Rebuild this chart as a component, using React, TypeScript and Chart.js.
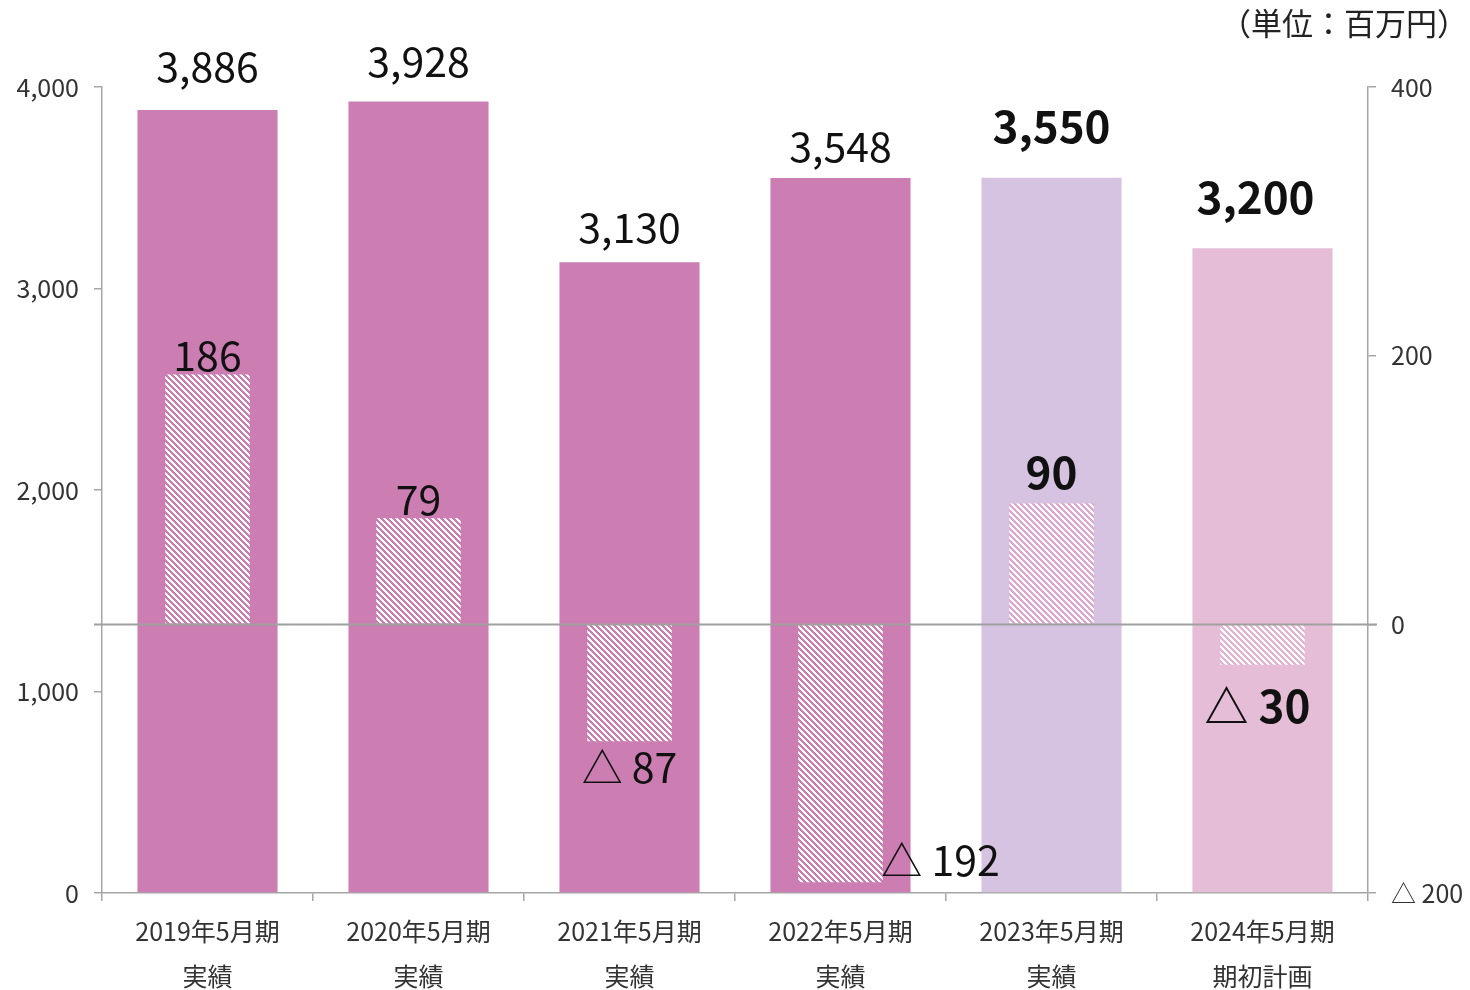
import React, { useEffect, useRef } from 'react';
import { Chart, registerables } from 'chart.js';

Chart.register(...registerables);

// ---- data ----
const categories: string[][] = [
  ['2019年5月期', '実績'],
  ['2020年5月期', '実績'],
  ['2021年5月期', '実績'],
  ['2022年5月期', '実績'],
  ['2023年5月期', '実績'],
  ['2024年5月期', '期初計画'],
];
const salesValues = [3886, 3928, 3130, 3548, 3550, 3200];
const profitValues = [186, 79, -87, -192, 90, -30];
const salesLabels = ['3,886', '3,928', '3,130', '3,548', '3,550', '3,200'];
const profitLabels = ['186', '79', '△ 87', '△ 192', '90', '△ 30'];
const boldFlags = [false, false, false, false, true, true];
const unitLabel = '（単位：百万円）';

// ---- styles ----
const barColors = ['#CC7EB3', '#CC7EB3', '#CC7EB3', '#CC7EB3', '#D5C3E1', '#E6BDD6'];
const stripeColors = ['#CC7EB3', '#CC7EB3', '#CC7EB3', '#CC7EB3', '#DFA5CF', '#E3B3D1'];
const salesLabelGap = [44, 40, 35, 32, 51, 51];
const FONT = '"Noto Sans CJK JP", "Noto Sans", sans-serif';
const AXIS_COLOR = '#A6A6A6';

function makeHatch(color: string): CanvasPattern | string {
  const p = 6;
  const c = document.createElement('canvas');
  c.width = p;
  c.height = p;
  const g = c.getContext('2d');
  if (!g) return color;
  g.fillStyle = '#ffffff';
  g.fillRect(0, 0, p, p);
  g.fillStyle = color;
  for (let y = 0; y < p; y++) {
    for (let x = 0; x < p; x++) {
      const m = (((x - y) % p) + p) % p;
      if (m < 3) g.fillRect(x, y, 1, 1);
    }
  }
  const pat = g.createPattern(c, 'repeat');
  return pat || color;
}

const labelPlugin = {
  id: 'valueLabels',
  afterDatasetsDraw(chart: any) {
    const ctx = chart.ctx;
    const y1 = chart.scales.y1;
    // zero line
    const zy = Math.round(y1.getPixelForValue(0)) + 0.5;
    ctx.save();
    ctx.strokeStyle = '#A0A0A0';
    ctx.lineWidth = 2;
    ctx.beginPath();
    ctx.moveTo(chart.chartArea.left - 8, zy);
    ctx.lineTo(chart.chartArea.right + 9, zy);
    ctx.stroke();

    ctx.fillStyle = '#111111';
    ctx.textAlign = 'center';
    ctx.textBaseline = 'middle';

    const salesMeta = chart.getDatasetMeta(1);
    salesMeta.data.forEach((el: any, i: number) => {
      const bold = boldFlags[i];
      ctx.font = (bold ? 'bold 44px ' : '41px ') + FONT;
      const dx = i === 5 ? -7 : 0;
      ctx.fillText(salesLabels[i], el.x + dx, el.y - salesLabelGap[i]);
    });

    const profitMeta = chart.getDatasetMeta(0);
    profitMeta.data.forEach((el: any, i: number) => {
      const bold = boldFlags[i];
      ctx.font = (bold ? 'bold 44px ' : '41px ') + FONT;
      const v = profitValues[i];
      let x = el.x;
      let y: number;
      if (v >= 0) {
        y = el.y - (bold ? 31 : 19);
      } else if (i === 3) {
        x = el.x + 100;
        y = el.y - 22;
      } else {
        y = el.y + (bold ? 42 : 26);
        if (bold) x -= 5;
      }
      ctx.fillText(profitLabels[i], x, y);
    });

    // unit label
    ctx.font = '31px ' + FONT;
    ctx.textAlign = 'right';
    ctx.fillStyle = '#222222';
    ctx.fillText(unitLabel, 1468, 23);
    ctx.restore();
  },
};

export default function App() {
  const ref = useRef<HTMLCanvasElement | null>(null);

  useEffect(() => {
    if (!ref.current) return;
    const chart = new Chart(ref.current, {
      type: 'bar',
      data: {
        labels: categories,
        datasets: [
          {
            label: '営業利益',
            data: profitValues,
            yAxisID: 'y1',
            backgroundColor: stripeColors.map((c) => makeHatch(c)) as any,
            borderWidth: 0,
            barPercentage: 0.4,
            categoryPercentage: 1,
            grouped: false,
            order: 0,
          },
          {
            label: '売上高',
            data: salesValues,
            yAxisID: 'y',
            backgroundColor: barColors,
            borderWidth: 0,
            barPercentage: 0.664,
            categoryPercentage: 1,
            grouped: false,
            order: 1,
          },
        ],
      },
      options: {
        responsive: false,
        animation: false,
        events: [],
        layout: { padding: { top: 87, left: 0, right: 0, bottom: 0 } },
        plugins: {
          legend: { display: false },
          tooltip: { enabled: false },
        },
        scales: {
          x: {
            type: 'category',
            offset: true,
            afterFit: (s: any) => {
              s.height = 97;
            },
            grid: {
              offset: true,
              drawOnChartArea: false,
              drawTicks: true,
              tickLength: 8,
              color: AXIS_COLOR,
              lineWidth: 1.5,
            },
            border: { color: AXIS_COLOR, width: 1.5 },
            ticks: {
              color: '#333333',
              padding: 8,
              maxRotation: 0,
              autoSkip: false,
              font: { family: FONT, size: 25, lineHeight: 1.8 },
            },
          },
          y: {
            position: 'left',
            min: 0,
            max: 4000,
            afterFit: (s: any) => {
              s.width = 102;
            },
            grid: {
              drawOnChartArea: false,
              drawTicks: true,
              tickLength: 8,
              color: AXIS_COLOR,
              lineWidth: 1.5,
            },
            border: { color: AXIS_COLOR, width: 1.5 },
            ticks: {
              stepSize: 1000,
              padding: 15,
              color: '#333333',
              font: { family: FONT, size: 25 },
              callback: (v: any) => Number(v).toLocaleString('en-US'),
            },
          },
          y1: {
            position: 'right',
            min: -200,
            max: 400,
            afterFit: (s: any) => {
              s.width = 102;
            },
            grid: {
              drawOnChartArea: false,
              drawTicks: true,
              tickLength: 8,
              color: AXIS_COLOR,
              lineWidth: 1.5,
            },
            border: { color: AXIS_COLOR, width: 1.5 },
            ticks: {
              stepSize: 200,
              padding: 15,
              color: '#333333',
              font: { family: FONT, size: 25 },
              callback: (v: any) => (Number(v) < 0 ? '△ ' + Math.abs(Number(v)) : String(v)),
            },
          },
        },
      },
      plugins: [labelPlugin],
    });
    return () => chart.destroy();
  }, []);

  return (
    <div style={{ position: 'fixed', left: 0, top: 0, width: 1470, height: 990, background: '#ffffff' }}>
      <canvas ref={ref} width={1470} height={990} style={{ width: 1470, height: 990, display: 'block' }} />
    </div>
  );
}
